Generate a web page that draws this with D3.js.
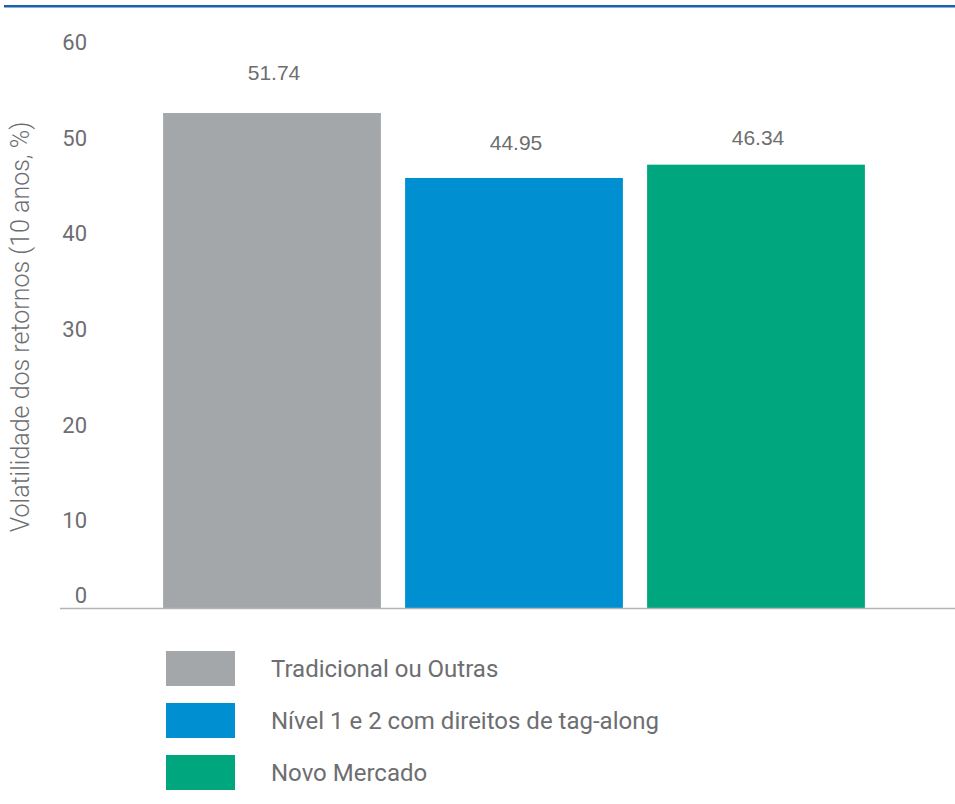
<!DOCTYPE html>
<html>
<head>
<meta charset="utf-8">
<script src="https://cdn.jsdelivr.net/npm/d3@7"></script>
<style>
  body { margin: 0; background: #fff; }
  svg { display: block; }
  .tick text { font-family: Roboto, sans-serif; }
</style>
</head>
<body>
<div id="chart"></div>
<script>
// data
var categories = ["Tradicional ou Outras", "Nível 1 e 2 com direitos de tag-along", "Novo Mercado"];
var values = [51.74, 44.95, 46.34];
var valueLabels = ["51.74", "44.95", "46.34"];
var colors = ["#a4a7aa", "#008fd0", "#00a77e"];
var yTicks = [0, 10, 20, 30, 40, 50, 60];
var yTitle = "Volatilidade dos retornos (10 anos, %)";

var width = 955, height = 804;
var textColor = "#6d6e71";

var svg = d3.select("#chart").append("svg")
    .attr("width", width)
    .attr("height", height);

// top rule
svg.append("rect")
    .attr("x", 4).attr("y", 5)
    .attr("width", width - 4).attr("height", 2.5)
    .attr("fill", "#1a62ad");

//Scales
var yScale = d3.scaleLinear().domain([0, 60]).range([608, 34]);
var xScale = d3.scaleBand()
    .domain(categories)
    .range([151, 877])
    .paddingInner(0.1)
    .paddingOuter(0.05);

//Y axis, labels only
var yAxis = d3.axisLeft(yScale).tickValues(yTicks).tickSize(0).tickPadding(0);
var gy = svg.append("g")
    .attr("transform", "translate(87,0)")
    .call(yAxis);
gy.select(".domain").remove();
gy.selectAll(".tick text")
    .attr("fill", textColor)
    .style("font-size", "22px")
    .attr("dy", function(d) { return d === 0 ? "-0.25em" : "0.7em"; });

svg.append("text")
    .attr("transform", "translate(29,327) rotate(-90)")
    .attr("text-anchor", "middle")
    .style("font-family", "Roboto, sans-serif")
    .style("font-weight", 300)
    .style("font-size", "25px")
    .attr("fill", textColor)
    .text(yTitle);

//Bars
svg.selectAll(".bar")
    .data(values)
  .enter().append("rect")
    .attr("class", "bar")
    .attr("x", function(d, i) { return xScale(categories[i]); })
    .attr("y", function(d) { return yScale(d); })
    .attr("width", xScale.bandwidth())
    .attr("height", function(d) { return yScale(0) - yScale(d); })
    .attr("fill", function(d, i) { return colors[i]; });

//Value labels
var labelOffsets = [40, 35, 27];
svg.selectAll(".val")
    .data(values)
  .enter().append("text")
    .attr("class", "val")
    .attr("x", function(d, i) { return xScale(categories[i]) + xScale.bandwidth() / 2 + 2; })
    .attr("y", function(d, i) { return yScale(d) - labelOffsets[i]; })
    .attr("dy", "0.35em")
    .attr("text-anchor", "middle")
    .style("font-family", "'Liberation Sans', Arial, sans-serif")
    .style("font-size", "21px")
    .attr("fill", textColor)
    .text(function(d, i) { return valueLabels[i]; });

//Baseline
svg.append("line")
    .attr("x1", 60).attr("x2", width)
    .attr("y1", yScale(0) + 0.5).attr("y2", yScale(0) + 0.5)
    .attr("stroke", "#b3b4b6")
    .attr("stroke-width", 1.5);

//Legend
var legend = svg.selectAll(".legend")
    .data(categories)
  .enter().append("g")
    .attr("class", "legend")
    .attr("transform", function(d, i) { return "translate(166," + (651 + i * 52) + ")"; });

legend.append("rect")
    .attr("width", 69).attr("height", 35)
    .attr("fill", function(d, i) { return colors[i]; });

legend.append("text")
    .attr("x", 105).attr("y", 17.5)
    .attr("dy", "0.35em")
    .style("font-family", "Roboto, sans-serif")
    .style("font-size", "24px")
    .attr("fill", textColor)
    .text(function(d) { return d; });
</script>
</body>
</html>
